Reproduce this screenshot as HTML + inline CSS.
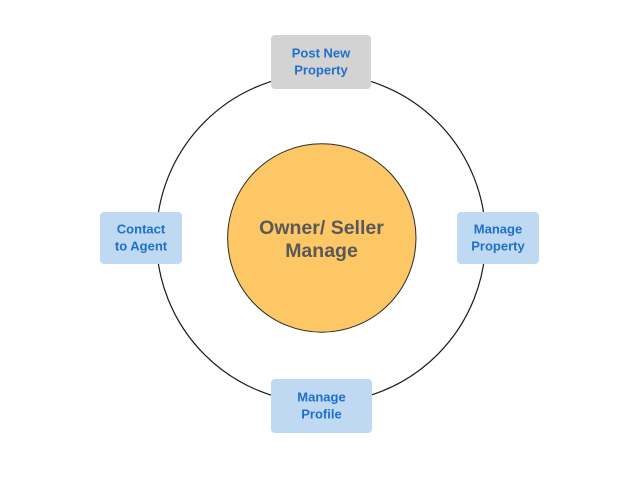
<!DOCTYPE html>
<html>
<head>
<meta charset="utf-8">
<style>
  html, body { margin: 0; padding: 0; background: #ffffff; }
  body { width: 638px; height: 479px; overflow: hidden; }
  svg { display: block; }
  .lbl { font-family: "Liberation Sans", sans-serif; font-weight: bold; font-size: 13px; fill: #1f70c8; }
  .ctr { font-family: "Liberation Sans", sans-serif; font-weight: bold; font-size: 19.5px; fill: #595959; }
</style>
</head>
<body>
<svg width="638" height="479" viewBox="0 0 638 479" xmlns="http://www.w3.org/2000/svg">
  <rect width="638" height="479" fill="#ffffff"/>
  <!-- outer ring -->
  <circle cx="321" cy="238.3" r="164.6" fill="none" stroke="#1a1a1a" stroke-width="1.2"/>
  <!-- inner circle -->
  <circle cx="321.8" cy="238" r="94.2" fill="#fec766" stroke="#2a2a2a" stroke-width="1"/>
  <text class="ctr" text-anchor="middle" x="321.5" y="234">Owner/ Seller</text>
  <text class="ctr" text-anchor="middle" x="321.5" y="257">Manage</text>

  <!-- top box -->
  <rect x="271" y="35" width="100" height="54" rx="4" ry="4" fill="#d3d3d3"/>
  <text class="lbl" text-anchor="middle" x="321" y="57.5">Post New</text>
  <text class="lbl" text-anchor="middle" x="321" y="74.5">Property</text>

  <!-- left box -->
  <rect x="100" y="212" width="82" height="52" rx="4" ry="4" fill="#bfd9f2"/>
  <text class="lbl" text-anchor="middle" x="141" y="233.5">Contact</text>
  <text class="lbl" text-anchor="middle" x="141" y="250.5">to Agent</text>

  <!-- right box -->
  <rect x="457" y="212" width="82" height="52" rx="4" ry="4" fill="#bfd9f2"/>
  <text class="lbl" text-anchor="middle" x="498" y="233.5">Manage</text>
  <text class="lbl" text-anchor="middle" x="498" y="250.5">Property</text>

  <!-- bottom box -->
  <rect x="271" y="379" width="101" height="54" rx="4" ry="4" fill="#bfd9f2"/>
  <text class="lbl" text-anchor="middle" x="321.5" y="401.5">Manage</text>
  <text class="lbl" text-anchor="middle" x="321.5" y="418.5">Profile</text>
</svg>
</body>
</html>
